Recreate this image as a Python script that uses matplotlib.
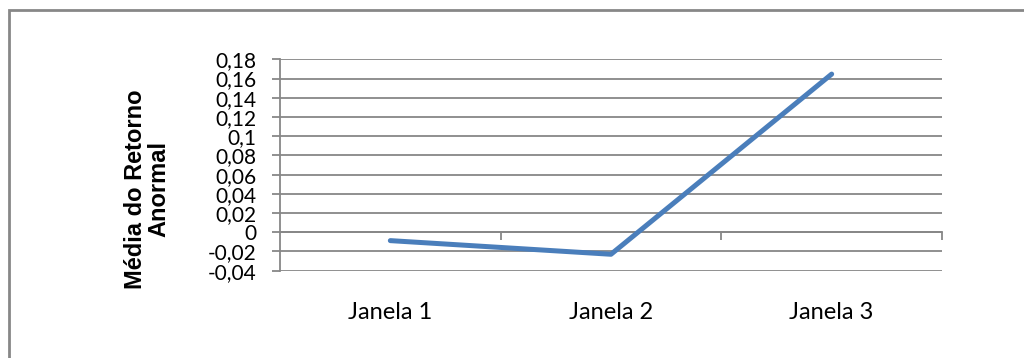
import matplotlib.pyplot as plt
from matplotlib.patches import Rectangle

# dados do gráfico
janelas = ['Janela 1', 'Janela 2', 'Janela 3']
media_retorno = [-0.0087, -0.0229, 0.1646]
y_ticks = [-0.04, -0.02, 0, 0.02, 0.04, 0.06, 0.08, 0.1, 0.12, 0.14, 0.16, 0.18]
y_labels = ['-0,04', '-0,02', '0', '0,02', '0,04', '0,06', '0,08', '0,1',
            '0,12', '0,14', '0,16', '0,18']

grey = '#878787'
fig = plt.figure(figsize=(10.24, 3.58), dpi=100)
ax = fig.add_axes([280 / 1024, 1 - 270.7 / 358, 662 / 1024, 211.4 / 358])

x = list(range(len(janelas)))
ax.plot(x, media_retorno, color='#4a7ebb', lw=3.6, solid_capstyle='round', zorder=3)

ax.set_xlim(-0.5, len(janelas) - 0.5)
ax.set_ylim(-0.04, 0.18)
ax.set_yticks(y_ticks)
ax.set_yticklabels(y_labels, family='Lato', fontsize=15)
ax.yaxis.grid(True, color=grey, lw=1.3)
ax.set_axisbelow(True)

for s in ['top', 'right']:
    ax.spines[s].set_visible(False)
ax.spines['left'].set_color(grey)
ax.spines['left'].set_linewidth(1.3)
ax.spines['bottom'].set_position(('data', 0))
ax.spines['bottom'].set_color(grey)
ax.spines['bottom'].set_linewidth(1.3)
ax.tick_params(axis='y', length=6, width=1.3, color=grey, pad=11)

# rótulos das categorias e marcas entre categorias
ax.set_xticks(x)
ax.set_xticklabels(janelas, family='Lato', fontsize=17)
ax.tick_params(axis='x', which='major', length=0, pad=50)
ax.set_xticks([i + 0.5 for i in x], minor=True)
ax.tick_params(axis='x', which='minor', length=6, width=1.3, color=grey, direction='out')

fig.text(147 / 1024, 1 - 189 / 358, 'Média do Retorno\nAnormal', rotation=90,
         ha='center', va='center', multialignment='center',
         family='Liberation Sans', fontweight='bold', fontsize=17, linespacing=1.05)

fig.patches.append(Rectangle((9 / 1024, -0.1), 1.2, 1 - 9.5 / 358 + 0.1,
                             transform=fig.transFigure, fill=False,
                             edgecolor=grey, lw=2, zorder=0))

fig.savefig('out.png', dpi=100)
